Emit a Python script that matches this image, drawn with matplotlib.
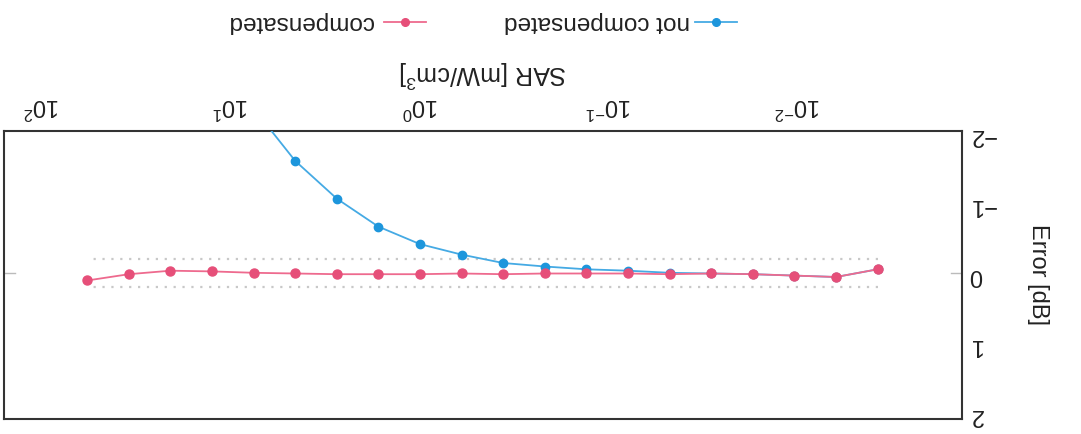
import numpy as np
import matplotlib
matplotlib.use("Agg")
import matplotlib.pyplot as plt
from matplotlib.lines import Line2D

plt.rcParams['font.family'] = ['Liberation Sans', 'DejaVu Sans']

# SAR sweep [mW/cm^3], 2.2 dB steps
sar_exp = [-2.42, -2.20, -1.98, -1.76, -1.54, -1.32, -1.10, -0.88, -0.66, -0.44,
           -0.22, 0.0, 0.22, 0.44, 0.66, 0.88, 1.10, 1.32, 1.54, 1.76]
not_comp = [-0.05, 0.06, 0.04, 0.02, 0.01, 0.0, -0.03, -0.05, -0.09, -0.14,
            -0.26, -0.41, -0.66, -1.06, -1.60, -2.35, np.nan, np.nan, np.nan, np.nan]
comp = [-0.05, 0.06, 0.04, 0.02, 0.01, 0.02, 0.01, 0.01, 0.01, 0.02,
        0.01, 0.02, 0.02, 0.02, 0.01, 0.0, -0.02, -0.03, 0.02, 0.11]
band = [-0.2, 0.2]
yticks = [-2, -1, 0, 1, 2]
ylabels = ['\u22122', '\u22121', '0', '1', '2']
xticks = [1e-2, 1e-1, 1e0, 1e1, 1e2]
xlabels = [r'$\mathregular{10^{-2}}$', r'$\mathregular{10^{-1}}$', r'$\mathregular{10^{0}}$',
           r'$\mathregular{10^{1}}$', r'$\mathregular{10^{2}}$']

sar = [10**e for e in sar_exp]

blue_l, blue_m = '#45aae4', '#1d96dc'
pink_l, pink_m = '#ee6a8e', '#e64f79'
txt = '#222222'

fig = plt.figure(figsize=(10.81, 4.34), dpi=100)
ax = fig.add_axes([0.0037, 0.0346, 0.8865, 0.664])

ax.hlines(band, sar[0], sar[-1], colors='#c8c8c8', linestyles=(0, (1, 3)), lw=1.6)
ax.plot(sar, not_comp, '-o', color=blue_l, mfc=blue_m, mec=blue_m, ms=6, lw=1.3, zorder=3)
ax.plot(sar, comp, '-o', color=pink_l, mfc=pink_m, mec=pink_m, ms=6.5, lw=1.3, zorder=4)

ax.set_xscale('log')
ax.set_xlim(10**2.20, 10**-2.868)
ax.set_ylim(2.09, -2.03)
ax.set_yticks(yticks)
ax.set_yticklabels(ylabels)
ax.set_xticks(xticks)
ax.set_xticklabels(xlabels)
ax.xaxis.set_minor_locator(matplotlib.ticker.NullLocator())
ax.xaxis.tick_top()
ax.yaxis.tick_right()
ax.tick_params(axis='both', length=0, labelsize=17, labelrotation=180, colors=txt)
ax.tick_params(axis='x', pad=9)
ax.tick_params(axis='y', pad=5)
ax.axhline(0, xmin=0, xmax=0.012, color='#bbbbbb', lw=1)
ax.axhline(0, xmin=0.988, xmax=1, color='#bbbbbb', lw=1)
for s in ax.spines.values():
    s.set_color('#333333')
    s.set_linewidth(1.5)

ax.xaxis.set_label_position('top')
ax.set_xlabel(r'SAR [mW/cm$\mathregular{^3}$]', fontsize=18, rotation=180, labelpad=8, color=txt)
ax.yaxis.set_label_position('right')
ax.set_ylabel('Error [dB]', fontsize=17, rotation=270, labelpad=38, color=txt)

# legend (drawn upside down like the rest)
ly = 1 - 22 / 434
fig.add_artist(Line2D([695/1081, 737/1081], [ly, ly], color=blue_l, lw=1.3))
fig.add_artist(Line2D([716/1081], [ly], marker='o', color=blue_m, ms=5.5))
fig.text(690/1081, ly, 'not compensated', rotation=180, fontsize=17.5,
         ha='right', va='center', color=txt)
fig.add_artist(Line2D([384/1081, 426/1081], [ly, ly], color=pink_l, lw=1.3))
fig.add_artist(Line2D([405/1081], [ly], marker='o', color=pink_m, ms=5.5))
fig.text(373/1081, ly, 'compensated', rotation=180, fontsize=17.5,
         ha='right', va='center', color=txt)

fig.savefig('out.png', dpi=100)
